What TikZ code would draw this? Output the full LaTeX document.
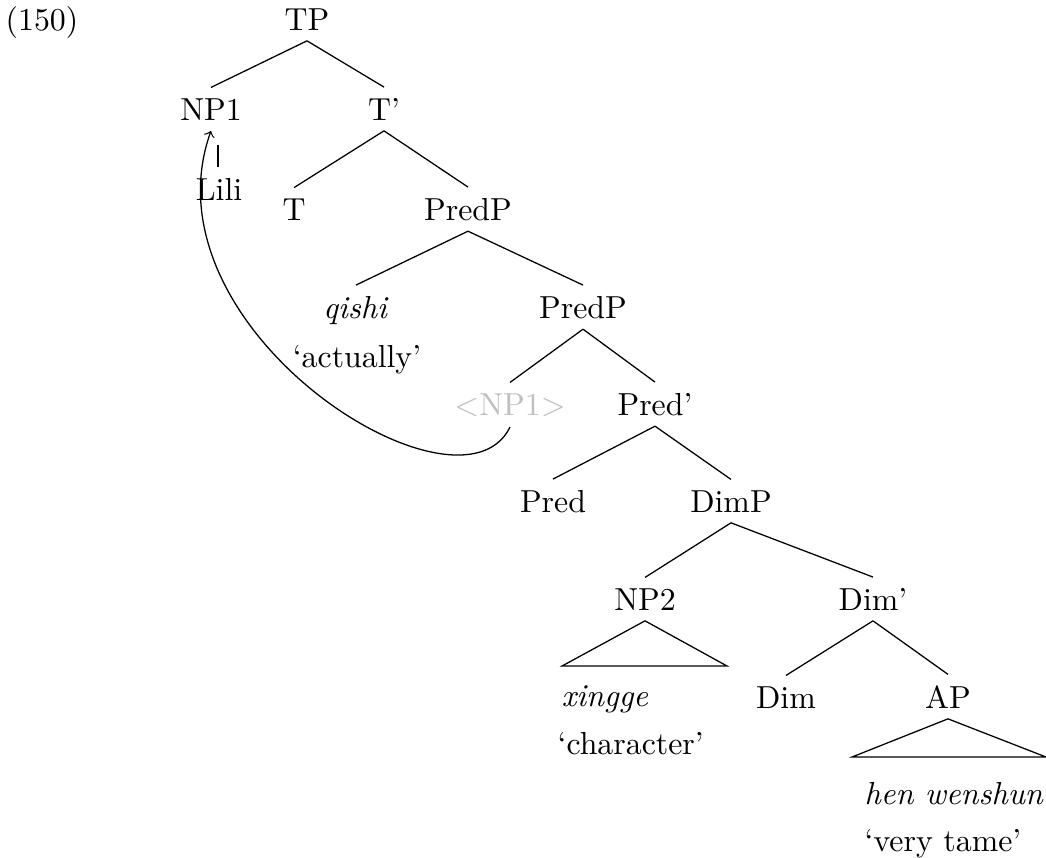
\documentclass[tikz,border=0pt]{standalone}
\begin{document}
\begin{tikzpicture}[x=0.314pt,y=-0.314pt,
  lab/.style={anchor=base, inner sep=3.2pt},
  gl/.style={anchor=base west, inner sep=0pt},
  br/.style={line width=0.4pt},
  trace/.style={lab, text=black!25}]
\useasboundingbox (0,0) rectangle (1046,857);
\node[lab] (ex) at (42,30) {(150)};
\node[lab] (TP) at (307,30) {TP};
\node[lab] (NP1) at (211,120) {NP1};
\node[lab] (Tbar) at (384,120) {T'};
\node[lab] (Lili) at (219,200) {Lili};
\node[lab] (T) at (294,220) {T};
\node[lab] (PredP) at (468,220) {PredP};
\node[lab] (qishi) at (356,318) {\textit{qishi}};
\node[lab] (actually) at (357,367) {`actually'};
\node[lab] (PredPb) at (583,318) {PredP};
\node[trace] (NPt) at (510,415) {$<$NP1$>$};
\node[lab] (Predbar) at (655,415) {Pred'};
\node[lab] (Pred) at (553,512) {Pred};
\node[lab] (DimP) at (731,512) {DimP};
\node[lab] (NP2) at (645,610) {NP2};
\node[lab] (Dimbar) at (873,610) {Dim'};
\node[gl] (xingge) at (561,706) {\textit{xingge}};
\node[gl] (character) at (557,754) {`character'};
\node[lab] (Dim) at (786,708) {Dim};
\node[lab] (AP) at (948,708) {AP};
\node[gl] (hen) at (864,804) {\textit{hen wenshun}};
\node[gl] (tame) at (864,851) {`very tame'};
\coordinate (np2l) at (562,666);
\coordinate (np2r) at (727,666);
\coordinate (apl) at (852,757);
\coordinate (apr) at (1046,757);
\coordinate (litop) at (218,145);
\begin{scope}[br]
\draw (TP.south) -- (NP1.north);
\draw (TP.south) -- (Tbar.north);
\draw (litop) -- (litop |- Lili.north);
\draw (Tbar.south) -- (T.north);
\draw (Tbar.south) -- (PredP.north);
\draw (PredP.south) -- (qishi.north);
\draw (PredP.south) -- (PredPb.north);
\draw (PredPb.south) -- (NPt.north);
\draw (PredPb.south) -- (Predbar.north);
\draw (Predbar.south) -- (Pred.north);
\draw (Predbar.south) -- (DimP.north);
\draw (DimP.south) -- (NP2.north);
\draw (DimP.south) -- (Dimbar.north);
\draw (Dimbar.south) -- (Dim.north);
\draw (Dimbar.south) -- (AP.north);
\draw (NP2.south) -- (np2l) -- (np2r) -- cycle;
\draw (AP.south) -- (apl) -- (apr) -- cycle;
\draw[->] (NPt.south) .. controls (460,530) and (140,330) .. (NP1.south);
\end{scope}
\end{tikzpicture}
\end{document}
